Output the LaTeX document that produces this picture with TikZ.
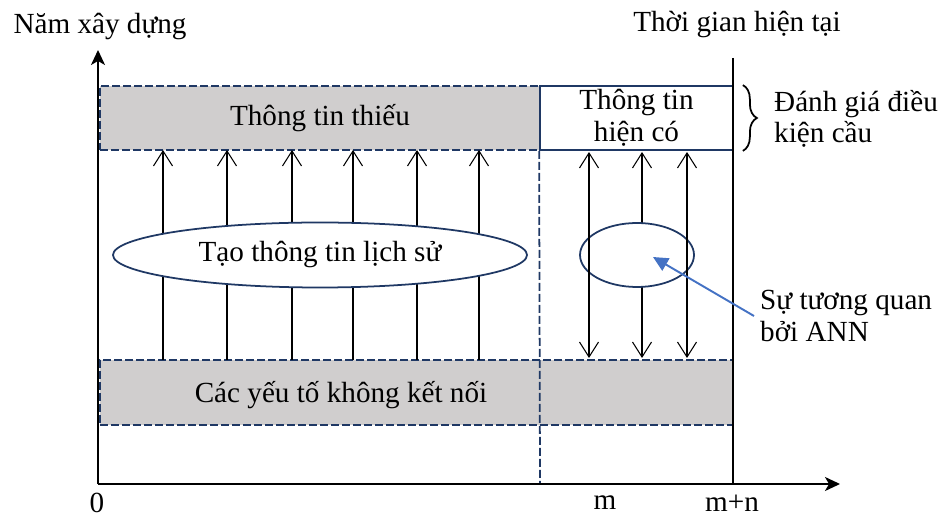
\documentclass[tikz,border=0pt]{standalone}
\usepackage{fontspec}
\setmainfont{Liberation Serif}
\usetikzlibrary{arrows.meta,shapes.geometric,decorations.pathreplacing}
\definecolor{navy}{RGB}{31,56,100}
\definecolor{shade}{RGB}{208,206,206}
\definecolor{annblue}{RGB}{68,114,196}
\tikzset{
  band/.style={draw=navy,line width=1pt,dash pattern=on 1.6mm off 0.6mm,
    fill=shade,rectangle,inner sep=0pt},
  infobox/.style={draw=navy,line width=1pt,fill=white,rectangle,inner sep=0pt,
    align=center},
  oval/.style={draw=navy,line width=1pt,fill=white,ellipse,inner sep=0pt},
  upline/.style={line width=0.6pt,-{Straight Barb[length=3mm,width=3.8mm]}},
  twoway/.style={line width=0.6pt,
    {Straight Barb[length=3mm,width=3.8mm]}-{Straight Barb[length=3mm,width=3.8mm]}},
  axis/.style={line width=1.1pt,-{Stealth[length=3mm,width=2.8mm,inset=0.8mm]}},
  nowline/.style={line width=1.1pt},
  mline/.style={draw=navy,line width=1pt,dash pattern=on 1.6mm off 0.6mm},
  annarrow/.style={draw=annblue,line width=1.1pt,-{Triangle[length=3mm,width=2.8mm]}},
  ticklab/.style={inner sep=1pt}
}
\begin{document}
\begin{tikzpicture}[x=0.2mm,y=-0.2mm,font=\fontsize{16.6}{18}\selectfont]
  \useasboundingbox (0,0) rectangle (947,518);
  \node[band,minimum width=88mm,minimum height=12.8mm] (miss) at (320,118) {Thông tin thiếu};
  \node[infobox,minimum width=38.6mm,minimum height=12.8mm] (have) at (636.5,118) {Thông tin\\hiện có};
  \node[band,minimum width=126.6mm,minimum height=13mm] (nolink) at (416.5,392.5) {};
  \node (nolinktxt) at (341,395) {Các yếu tố không kết nối};
  \path
    (98,484) coordinate (o)
    (840,484) coordinate (xend)
    (98,50) coordinate (yend)
    (540,484) coordinate (mbot)
    (733,58) coordinate (nowtop)
    (733,484) coordinate (nowbot)
    (653,257) coordinate (annpt)
    (163,360) coordinate (u1) (163,150) coordinate (t1)
    (227,360) coordinate (u2) (227,150) coordinate (t2)
    (292,360) coordinate (u3) (292,150) coordinate (t3)
    (353,360) coordinate (u4) (353,150) coordinate (t4)
    (417,360) coordinate (u5) (417,150) coordinate (t5)
    (479,360) coordinate (u6) (479,150) coordinate (t6)
    (589,358) coordinate (v1) (589,152) coordinate (w1)
    (642,358) coordinate (v2) (642,152) coordinate (w2)
    (687,358) coordinate (v3) (687,152) coordinate (w3);
  \draw[mline] (have.south west) -- (mbot);
  \begin{scope}
    \draw[upline] (u1) -- (t1);
    \draw[upline] (u2) -- (t2);
    \draw[upline] (u3) -- (t3);
    \draw[upline] (u4) -- (t4);
    \draw[upline] (u5) -- (t5);
    \draw[upline] (u6) -- (t6);
    \draw[twoway] (v2) -- (w2);
  \end{scope}
  \node[oval,minimum width=82.8mm,minimum height=13mm] (hist) at (320,255) {Tạo thông tin lịch sử};
  \node[oval,minimum width=22.8mm,minimum height=12.8mm] (ann) at (637,255) {};
  \draw[twoway] (v1) -- (w1);
  \draw[twoway] (v3) -- (w3);
  \draw[nowline] (nowtop) -- (nowbot);
  \draw[axis] (o) -- (xend);
  \draw[axis] (o) -- (yend);
  \node[align=left,anchor=west] (corr) at (754,316) {Sự tương quan\\bởi ANN};
  \draw[annarrow] (corr.west) -- (annpt);
  \draw[line width=1pt,decorate,decoration={brace,amplitude=2.8mm}]
    ([xshift=1.8mm]have.north east) -- ([xshift=1.8mm]have.south east);
  \node[align=left,anchor=west] (cond) at (768,119) {Đánh giá điều\\kiện cầu};
  \node (year) at (100,27) {Năm xây dựng};
  \node (now) at (737,25) {Thời gian hiện tại};
  \node[ticklab] (zero) at (97,503) {0};
  \node[ticklab] (mlab) at (605,503) {m};
  \node[ticklab] (mnlab) at (732,503) {m+n};
\end{tikzpicture}
\end{document}
